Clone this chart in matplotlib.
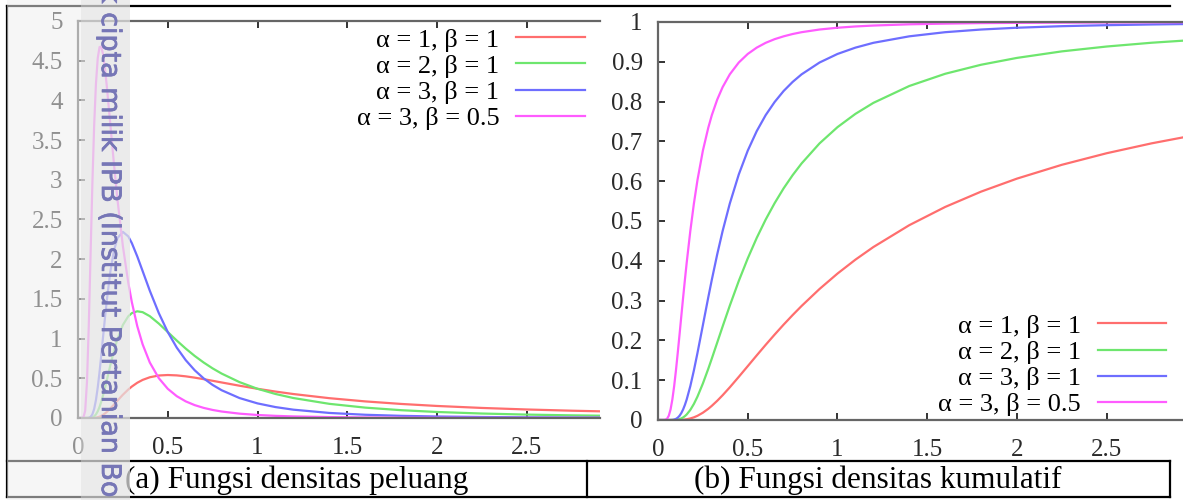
import matplotlib.pyplot as plt
import matplotlib.patheffects as pe
from matplotlib.lines import Line2D
from matplotlib.patches import Rectangle
from matplotlib.ticker import FuncFormatter, MultipleLocator

W, H = 1183, 500

# x grid shared by all curves
x = [0.0, 0.02, 0.03, 0.04, 0.05, 0.06, 0.07, 0.08, 0.09, 0.10, 0.11, 0.12, 0.13,
     0.14, 0.15, 0.16, 0.18, 0.20, 0.22, 0.25, 0.28, 0.30, 0.33, 0.36, 0.40, 0.45,
     0.50, 0.55, 0.60, 0.65, 0.70, 0.75, 0.80, 0.90, 1.00, 1.10, 1.20, 1.40, 1.60,
     1.80, 2.00, 2.25, 2.50, 2.75, 3.00]

labels = ["α = 1, β = 1", "α = 2, β = 1", "α = 3, β = 1", "α = 3, β = 0.5"]
colors = ["#ff6e6e", "#6ee66e", "#6e6eff", "#ff5cff"]

# (a) densitas peluang
pdf_a1b1 = [0, 0, 0, 0, 0, 0, 0.0001, 0.0006, 0.0018, 0.0045, 0.0093, 0.0167, 0.0270,
            0.0404, 0.0566, 0.0754, 0.1193, 0.1684, 0.2194, 0.2931, 0.3587, 0.3963,
            0.4435, 0.4798, 0.5130, 0.5353, 0.5413, 0.5367, 0.5247, 0.5082, 0.4892,
            0.4686, 0.4477, 0.4064, 0.3679, 0.3330, 0.3018, 0.2497, 0.2091, 0.1771,
            0.1516, 0.1267, 0.1073, 0.0919, 0.0796]
pdf_a2b1 = [0, 0, 0, 0, 0, 0.0003, 0.0019, 0.0073, 0.0204, 0.0454, 0.0846, 0.139, 0.208,
            0.2886, 0.377, 0.471, 0.663, 0.842, 0.997, 1.172, 1.281, 1.321, 1.344, 1.333,
            1.2825, 1.1896, 1.0827, 0.9758, 0.8745, 0.7818, 0.6989, 0.6248, 0.5596,
            0.4516, 0.3679, 0.3027, 0.2515, 0.1784, 0.1307, 0.0984, 0.0758, 0.0563,
            0.0429, 0.0334, 0.0265]
pdf_a3b1 = [0, 0, 0, 0, 0.0002, 0.0023, 0.0136, 0.0456, 0.1133, 0.227, 0.3845, 0.579,
            0.800, 1.031, 1.257, 1.472, 1.842, 2.105, 2.266, 2.344, 2.2875, 2.202, 2.036,
            1.851, 1.603, 1.322, 1.083, 0.8871, 0.729, 0.6014, 0.499, 0.4165, 0.350,
            0.251, 0.184, 0.1376, 0.1048, 0.0637, 0.0408, 0.0273, 0.0190, 0.0125,
            0.0086, 0.0061, 0.0044]
pdf_a3b05 = [0, 0, 0.0045, 0.091, 0.454, 1.159, 2.059, 2.945, 3.683, 4.211, 4.533, 4.672,
             4.676, 4.575, 4.404, 4.190, 3.702, 3.206, 2.748, 2.165, 1.704, 1.458, 1.158,
             0.928, 0.699, 0.502, 0.368, 0.2752, 0.2096, 0.1622, 0.1274, 0.1014, 0.0817,
             0.0547, 0.0379, 0.0271, 0.0199, 0.0114, 0.0070, 0.0045, 0.0030, 0.0020,
             0.0013, 0.0009, 0.0007]

# (b) densitas kumulatif
cdf_a1b1 = [0, 0, 0, 0, 0, 0, 0, 0, 0, 0, 0.0001, 0.0002, 0.0005, 0.0008, 0.0013, 0.0019,
            0.0039, 0.0067, 0.0106, 0.0183, 0.0281, 0.0357, 0.0483, 0.0622, 0.0821,
            0.1084, 0.1353, 0.1623, 0.1889, 0.2147, 0.2397, 0.2636, 0.2865, 0.3292,
            0.3679, 0.4029, 0.4346, 0.4895, 0.5353, 0.5738, 0.6065, 0.6412, 0.6703,
            0.6951, 0.7165]
cdf_a2b1 = [0, 0, 0, 0, 0, 0, 0, 0.0001, 0.0002, 0.0005, 0.0011, 0.0022, 0.0040, 0.0064,
            0.0098, 0.0140, 0.0253, 0.0404, 0.0589, 0.0916, 0.1285, 0.1546, 0.1947,
            0.2349, 0.2873, 0.3493, 0.4060, 0.4575, 0.5037, 0.5450, 0.5821, 0.6151,
            0.6446, 0.6950, 0.7358, 0.7692, 0.7968, 0.8392, 0.8699, 0.8926, 0.9098,
            0.9262, 0.9384, 0.9479, 0.9553]
cdf_a3b1 = [0, 0, 0, 0, 0, 0, 0.0001, 0.0003, 0.0011, 0.0028, 0.0058, 0.0106, 0.0175,
            0.0266, 0.0381, 0.0517, 0.0850, 0.1247, 0.1686, 0.2381, 0.3079, 0.3527,
            0.4164, 0.4748, 0.5438, 0.6169, 0.6767, 0.7258, 0.7661, 0.7991, 0.8267,
            0.8494, 0.8685, 0.8982, 0.9197, 0.9356, 0.9477, 0.9640, 0.9744, 0.9811,
            0.9856, 0.9895, 0.9920, 0.9938, 0.9952]
cdf_a3b05 = [0, 0, 0, 0.0003, 0.0028, 0.0106, 0.0266, 0.0517, 0.0850, 0.1247, 0.1686,
             0.2146, 0.2616, 0.3079, 0.3527, 0.3958, 0.4748, 0.5438, 0.6031, 0.6767,
             0.7341, 0.7661, 0.8051, 0.8363, 0.8685, 0.8982, 0.9197, 0.9356, 0.9477,
             0.9569, 0.9640, 0.9698, 0.9744, 0.9811, 0.9856, 0.9888, 0.9911, 0.9942,
             0.9959, 0.9972, 0.9978, 0.9984, 0.9988, 0.9991, 0.9994]

captions = ["(a) Fungsi densitas peluang", "(b) Fungsi densitas kumulatif"]
watermark = "k cipta milik IPB (Institut Pertanian Bo"

plt.rcParams["font.family"] = ["Liberation Serif", "DejaVu Serif"]
SPINE = "#666666"


def px(x0, y0, x1, y1):
    # pixel box (top-left origin) -> figure rect
    return [x0 / W, 1 - y1 / H, (x1 - x0) / W, (y1 - y0) / H]


def style(ax, xmax, ymax, ystep):
    ax.set_xlim(0, xmax)
    ax.set_ylim(0, ymax)
    ax.xaxis.set_major_locator(MultipleLocator(0.5))
    ax.yaxis.set_major_locator(MultipleLocator(ystep))
    fmt = FuncFormatter(lambda v, p: "%g" % round(v, 2))
    ax.xaxis.set_major_formatter(fmt)
    ax.yaxis.set_major_formatter(fmt)
    ax.spines["right"].set_visible(False)
    for s in ("left", "bottom", "top"):
        ax.spines[s].set_color(SPINE)
        ax.spines[s].set_linewidth(1.6)
    ax.tick_params(direction="in", length=5, width=1.4, color="#333333",
                   top=True, right=False, labelsize=18, labelcolor="#2a2a2a")
    ax.tick_params(axis="x", pad=14)
    ax.tick_params(axis="y", pad=11)


fig = plt.figure(figsize=(W / 100, H / 100), dpi=100)

ax1 = fig.add_axes(px(78, 21, 600, 418))
ax2 = fig.add_axes(px(658, 22, 1183, 420))

for ys, c, lab in zip([pdf_a1b1, pdf_a2b1, pdf_a3b1, pdf_a3b05], colors, labels):
    ax1.plot(x, ys, color=c, lw=1.6, label=lab, solid_joinstyle="round")
for ys, c, lab in zip([cdf_a1b1, cdf_a2b1, cdf_a3b1, cdf_a3b05], colors, labels):
    ax2.plot(x, ys, color=c, lw=1.6, label=lab, solid_joinstyle="round")

style(ax1, 2.908, 5, 0.5)
style(ax2, 2.925, 1, 0.1)

leg_kw = dict(frameon=False, markerfirst=False, fontsize=19, handlelength=2.6,
              handletextpad=0.64, labelspacing=0.1, borderpad=0, borderaxespad=0)
ax1.legend(loc="upper right", bbox_to_anchor=(0.971, 0.982), **leg_kw)
ax2.legend(loc="lower right", bbox_to_anchor=(0.968, 0.01), **leg_kw)

# caption table
lw_tab = 1.6
for y in (5.5, 461, 497):
    fig.add_artist(Line2D([7 / W, 1170 / W], [1 - y / H, 1 - y / H], color="black", lw=lw_tab))
for xv, y0 in ((7, 5.5), (587, 461), (1170, 461)):
    fig.add_artist(Line2D([xv / W, xv / W], [1 - y0 / H, 1 - 497 / H], color="black", lw=lw_tab))
fig.text(297 / W, 1 - 480 / H, captions[0], ha="center", va="center", fontsize=22.5)
fig.text(878 / W, 1 - 480 / H, captions[1], ha="center", va="center", fontsize=22.5)

# faded left margin + watermark strip
fig.add_artist(Rectangle((7 / W, 0), 74 / W, 1, transform=fig.transFigure,
                         facecolor="#efefef", alpha=0.52, edgecolor="none", zorder=10))
fig.add_artist(Rectangle((81 / W, 0), 49 / W, 1, transform=fig.transFigure,
                         facecolor="#e4e4e4", alpha=0.72, edgecolor="none", zorder=10))
fig.text(109 / W, 1.024, watermark, rotation=-90, ha="center", va="top",
         fontsize=19.4, color="#7676b6", family="DejaVu Sans", zorder=11,
         path_effects=[pe.withStroke(linewidth=0.5, foreground="#7676b6")])

fig.savefig("out.png", dpi=100)
